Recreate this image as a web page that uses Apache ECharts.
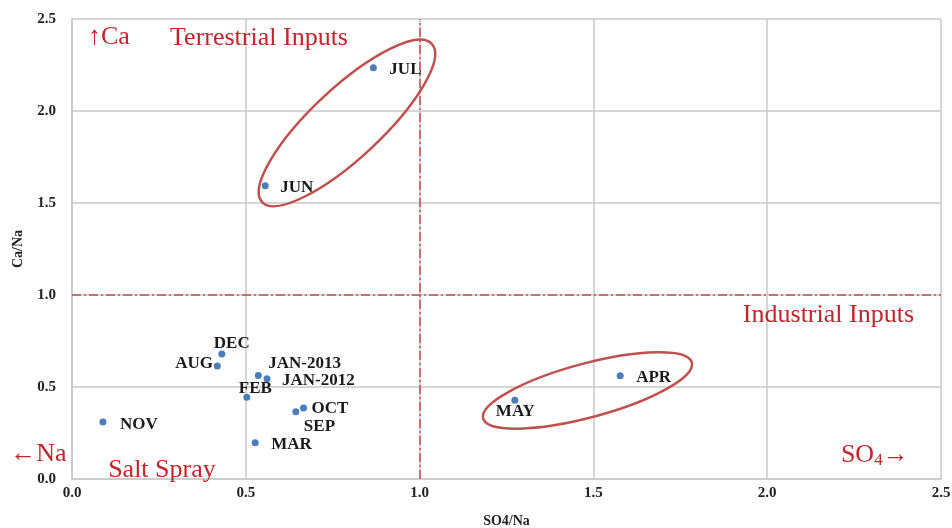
<!DOCTYPE html>
<html>
<head>
<meta charset="utf-8">
<script src="https://cdn.jsdelivr.net/npm/echarts@6/dist/echarts.min.js"></script>
<style>
  html, body { margin: 0; padding: 0; background: #fff; }
  #chart { width: 952px; height: 528px; }
</style>
</head>
<body>
<div id="chart"></div>
<script>
// monthly ratios
const months = ['JUL', 'JUN', 'DEC', 'AUG', 'JAN-2013', 'JAN-2012', 'FEB', 'OCT', 'SEP', 'MAR', 'NOV', 'MAY', 'APR']
const so4Na = [0.867, 0.556, 0.431, 0.418, 0.536, 0.561, 0.503, 0.666, 0.644, 0.527, 0.089, 1.274, 1.577]
const caNa = [2.235, 1.594, 0.679, 0.614, 0.563, 0.545, 0.444, 0.386, 0.366, 0.197, 0.31, 0.428, 0.561]

// where each month label sits relative to its dot (px)
const labelPlace = {
  'JUL': [16, 2], 'JUN': [15, 2], 'DEC': [-8, -10], 'AUG': [-42, -2],
  'JAN-2013': [10, -12], 'JAN-2012': [15, 2], 'FEB': [-8, -9], 'OCT': [8, 1],
  'SEP': [8, 15], 'MAR': [16, 2], 'NOV': [17, 3], 'MAY': [-19, 11], 'APR': [16, 2]
}

// ellipse groupings (centre in data units)
const ellipseCenters = [[0.791, 1.935], [1.483, 0.481]]
const ellipseShape = [{ rx: 116, ry: 35, deg: 43 }, { rx: 108, ry: 27, deg: 15 }]

// quadrant annotations (left edge / vertical middle in data units)
const noteText = ['↑Ca', 'Terrestrial Inputs', 'Industrial Inputs', '←Na', 'Salt Spray', 'SO{s|4}→']
const notePos = [[0.046, 2.402], [0.282, 2.397], [1.930, 0.891], [-0.178, 0.136], [0.104, 0.049], [2.212, 0.130]]

const axisTicks = [0, 0.5, 1.0, 1.5, 2.0, 2.5]

const serif = '"Liberation Serif", "Times New Roman", serif'
const red = '#c3242b'

const myChart = echarts.init(document.getElementById('chart'))

const pointData = months.map((m, i) => {
  const off = labelPlace[m]
  return {
    name: m,
    value: [so4Na[i], caNa[i]],
    label: { offset: off }
  }
})

const option = {
  animation: false,
  grid: { left: 72, right: 11, top: 19, bottom: 49, containLabel: false, outerBoundsMode: 'none' },
  xAxis: {
    type: 'value',
    min: axisTicks[0],
    max: axisTicks[axisTicks.length - 1],
    interval: 0.5,
    name: 'SO4/Na',
    nameLocation: 'middle',
    nameGap: 35,
    nameTextStyle: { fontFamily: serif, fontWeight: 'bold', fontSize: 14, color: '#222' },
    axisLine: { show: true, lineStyle: { color: '#c9c9c9', width: 1.5 } },
    axisTick: { show: false },
    axisLabel: {
      margin: 7,
      fontFamily: serif, fontWeight: 'bold', fontSize: 15, color: '#222',
      formatter: v => v.toFixed(1)
    },
    splitLine: { lineStyle: { color: '#c9c9c9', width: 1.5 } }
  },
  yAxis: {
    type: 'value',
    min: axisTicks[0],
    max: axisTicks[axisTicks.length - 1],
    interval: 0.5,
    name: 'Ca/Na',
    nameLocation: 'middle',
    nameGap: 47,
    nameTextStyle: { fontFamily: serif, fontWeight: 'bold', fontSize: 14, color: '#222' },
    axisLine: { show: true, lineStyle: { color: '#c9c9c9', width: 1.5 } },
    axisTick: { show: false },
    axisLabel: {
      margin: 16,
      fontFamily: serif, fontWeight: 'bold', fontSize: 15, color: '#222',
      formatter: v => v.toFixed(1)
    },
    splitLine: { lineStyle: { color: '#c9c9c9', width: 1.5 } }
  },
  series: [
    {
      type: 'scatter',
      symbolSize: 7,
      itemStyle: { color: '#4a7ebb', opacity: 1 },
      label: {
        show: true,
        position: 'inside',
        align: 'left',
        verticalAlign: 'middle',
        formatter: p => p.name,
        fontFamily: serif, fontWeight: 'bold', fontSize: 17, color: '#1a1a1a'
      },
      data: pointData,
      markLine: {
        silent: true,
        symbol: 'none',
        label: { show: false },
        lineStyle: { color: '#c0504d', width: 1.5, type: [9, 3, 2, 3], opacity: 1 },
        data: [{ xAxis: 1.0 }, { yAxis: 1.0 }]
      },
      z: 5
    },
    {
      type: 'custom',
      silent: true,
      data: ellipseCenters,
      renderItem: (params, api) => {
        const c = api.coord([api.value(0), api.value(1)])
        const e = ellipseShape[params.dataIndex]
        return {
          type: 'ellipse',
          x: c[0],
          y: c[1],
          rotation: e.deg * Math.PI / 180,
          shape: { cx: 0, cy: 0, rx: e.rx, ry: e.ry },
          style: { fill: 'none', stroke: '#c0504d', lineWidth: 2.5 }
        }
      },
      z: 4
    },
    {
      type: 'custom',
      silent: true,
      clip: false,
      data: notePos,
      renderItem: (params, api) => {
        const c = api.coord([api.value(0), api.value(1)])
        return {
          type: 'text',
          x: c[0],
          y: c[1],
          style: {
            text: noteText[params.dataIndex],
            fill: red,
            fontFamily: serif,
            fontSize: 26,
            align: 'left',
            verticalAlign: 'middle',
            rich: {
              s: { fontFamily: serif, fontSize: 17, fill: red, padding: [10, 0, 0, 0] }
            }
          }
        }
      },
      z: 6
    }
  ]
}
myChart.setOption(option)
</script>
</body>
</html>
